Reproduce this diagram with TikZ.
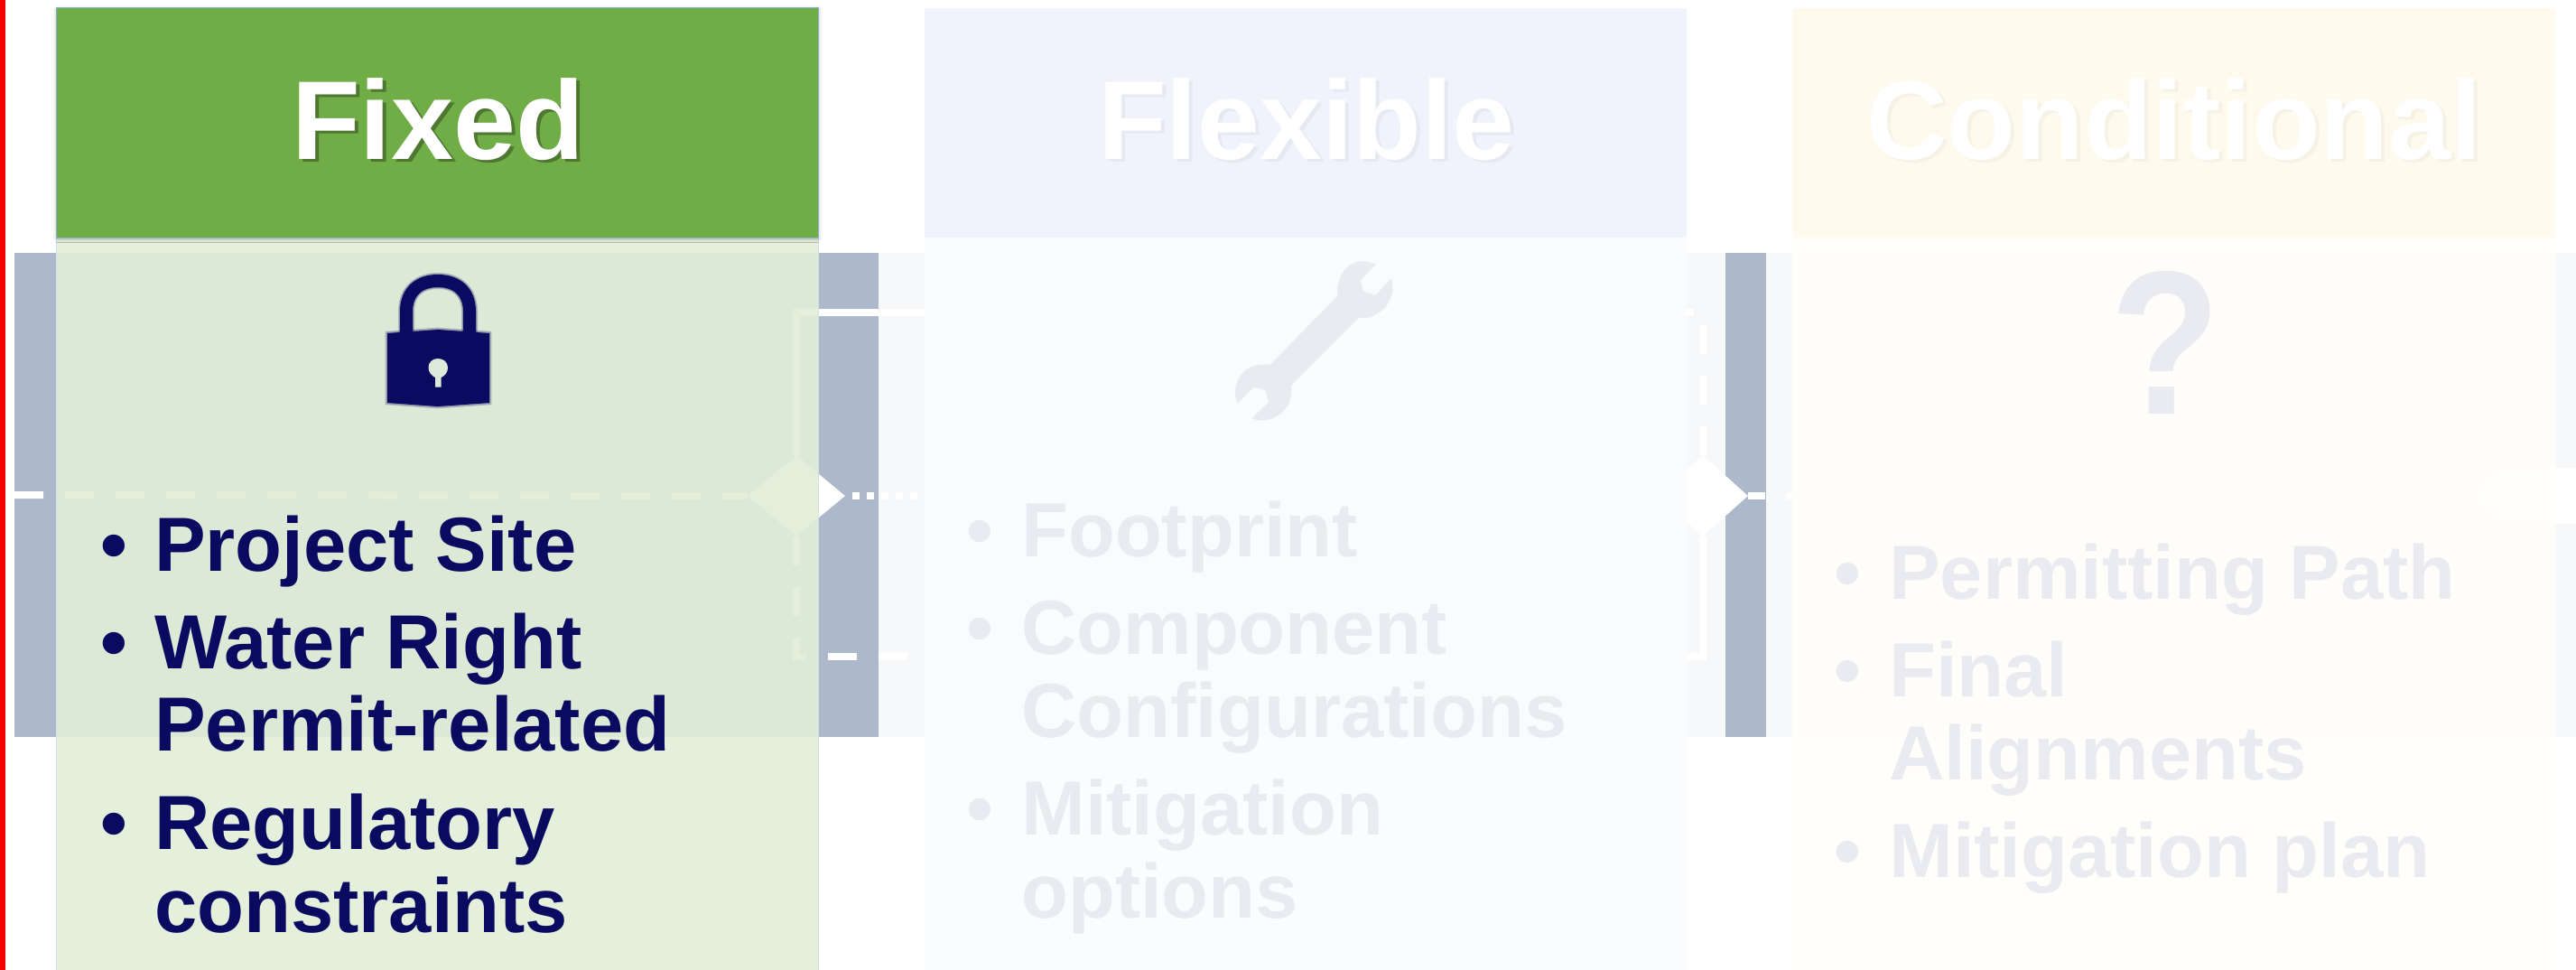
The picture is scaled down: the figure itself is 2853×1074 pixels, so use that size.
\documentclass[tikz,border=0pt]{standalone}
\usepackage{fontspec}
\setmainfont{Liberation Sans}
\usepackage{tikz}
\usetikzlibrary{shadows.blur}
\usetikzlibrary{shapes}
\definecolor{navyText}{RGB}{10,10,96}
\definecolor{faintText}{RGB}{233,235,241}
\definecolor{bandGray}{RGB}{173,184,203}
\definecolor{headGreen}{RGB}{112,173,71}
\definecolor{headBlue}{RGB}{240,243,251}
\definecolor{headCream}{RGB}{255,250,238}
\definecolor{panelGreen}{RGB}{225,238,216}
\definecolor{panelBlue}{RGB}{251,252,254}
\definecolor{panelCream}{RGB}{255,254,251}
\definecolor{keyGreen}{RGB}{221,233,217}
\tikzset{
  flowline/.style={draw=white,line width=6pt},
  flowdash/.style={flowline,dash pattern=on 24pt off 18pt},
  flowdec/.style={diamond,fill=white,inner sep=0pt,minimum width=81pt,minimum height=67.5pt},
  headtext/.style={anchor=base,inner sep=0pt,text=white,font=\fontsize{93}{100}\bfseries},
  headshade/.style={headtext,text=black,opacity=0.3},
  itemtext/.style={anchor=base west,inner sep=0pt,font=\fontsize{63.7}{69}\bfseries},
  itembullet/.style={anchor=base west,inner sep=0pt,font=\fontsize{63.7}{69}\bfseries},
  lockglow/.style={draw=navyText,draw opacity=0.22},
}
\begin{document}
\begin{tikzpicture}[x=0.75pt,y=0.75pt,yscale=-1,xscale=1]
\useasboundingbox (0,0) rectangle (2853,1074);

%Red edge
\fill [color={rgb, 255:red, 240; green, 0; blue, 0 }] (0,0) rectangle (6,1074);
%Gray band
\fill [bandGray] (16,280) rectangle (2853,816);

%Flow shapes
\coordinate (startLeft) at (16,548);
\coordinate (midTop) at (1400,346);
\coordinate (lowEnd) at (1886,727);
\coordinate (lowJoin) at (1850,727);
\node [flowdec] (decFixed) at (882,549) {};
\node [flowdec,minimum width=75pt] (decFlex) at (1886,549) {};
\node [rounded rectangle,rounded rectangle right arc=none,fill=white,inner sep=0pt,minimum width=84pt,minimum height=46.5pt] (termEnd) at (2797,549) {};

%Flow lines
\draw [flowdash] (startLeft) -- (decFixed.west);
\draw [flowline] (decFixed.north) |- (midTop);
\draw [flowdash] (decFlex.north) |- (midTop);
\draw [flowline,dash pattern=on 6pt off 6pt,dash phase=6pt] (decFixed.east) -- (decFlex.west);
\draw [flowdash] (decFixed.south) |- (lowEnd);
\draw [flowline] (lowJoin) -| (decFlex.south);
\draw [flowdash,dash phase=9.75pt] (decFlex.east) -- (termEnd.west);

%White veil over the right part of the band
\fill [white,opacity=0.915] (973,280) rectangle (1911,816);
\fill [white,opacity=0.915] (1956,280) rectangle (2853,816);

%Panels
\filldraw [fill=panelGreen,draw={rgb, 255:red, 212; green, 224; blue, 232 },line width=0.75pt,fill opacity=0.91] (62,263) rectangle (906,1076);
\fill [panelBlue,opacity=0.97] (1024,263) rectangle (1868,1074);
\fill [panelCream,opacity=0.95] (1985,263) rectangle (2830,1074);

%Headers
\filldraw [fill=headGreen,draw={rgb, 255:red, 140; green, 175; blue, 215 },line width=0.75pt,blur shadow={shadow xshift=0.5pt,shadow yshift=-1pt,shadow blur radius=3pt,shadow opacity=30}] (62,9) rectangle (906,263);
\fill [headBlue] (1024,9) rectangle (1868,263);
\fill [headCream] (1985,9) rectangle (2830,263);

% Text Node
\node [headshade] (shadeFixed) at (489,179) {Fixed};
\node [headtext] (titleFixed) at (485,176) {Fixed};
% Text Node
\node [headshade,opacity=0.04] (shadeFlex) at (1451,179) {Flexible};
\node [headtext] (titleFlex) at (1447,176) {Flexible};
% Text Node
\node [headshade,opacity=0.03] (shadeCond) at (2412,179) {Conditional};
\node [headtext] (titleCond) at (2408,176) {Conditional};

%Lock
\foreach \glow in {13.5,12}{
  \draw [lockglow,line width=\glow pt] (450,374) -- (450,345) .. controls (450,322) and (465,311) .. (485,311) .. controls (505,311) and (520,322) .. (520,345) -- (520,374);
}
\foreach \glow in {3.5,1.8}{
  \draw [lockglow,line width=\glow pt] (429,369) -- (485,365) -- (542,369) -- (542,446) -- (485,450) -- (429,446) -- cycle;
}
\draw [navyText,line width=10.5pt] (450,372) -- (450,345) .. controls (450,322) and (465,311) .. (485,311) .. controls (505,311) and (520,322) .. (520,345) -- (520,372);
\fill [navyText] (429,369) -- (485,365) -- (542,369) -- (542,446) -- (485,450) -- (429,446) -- cycle;
\fill [keyGreen] (485,397) .. controls (479,397) and (474.5,401) .. (474.5,407) .. controls (474.5,412) and (478,416) .. (482,418) -- (482,428.5) -- (488.5,428.5) -- (488.5,418) .. controls (493,416) and (496,412) .. (496,407) .. controls (496,401) and (491,397) .. (485,397) -- cycle;

%Wrench
\fill [faintText] (1481.4,327.5) .. controls (1479,312) and (1488,289.3) .. (1510.5,289.3) -- (1524.3,291.8) -- (1506.7,310.7) -- (1510.5,322.9) -- (1523.5,326.8) -- (1541.1,307.9) .. controls (1548.8,336.4) and (1522,356) .. (1505.1,351.4) -- (1430.1,426.4) .. controls (1434,454.3) and (1407.2,472.1) .. (1386.5,463.2) -- (1404.9,445.4) -- (1401.8,432.1) -- (1388.8,428.6) -- (1370.4,447.1) .. controls (1361.3,422.1) and (1380.4,398.9) .. (1406.4,404.3) -- cycle;

% Text Node
\node [anchor=base,inner sep=0pt,text=faintText,font=\fontsize{170}{172}\bfseries] (iconCond) at (2398,458) {\scalebox{0.88}[1]{?}};

% Text Node
\node [itembullet,text=navyText] (bulSite) at (111.5,632) {•};
\node [itemtext,text=navyText] (itemSite) at (171,632) {Project Site};
\node [itembullet,text=navyText] (bulRight) at (111.5,740) {•};
\node [itemtext,text=navyText] (itemRight) at (171,740) {Water Right};
\node [itemtext,text=navyText] (itemPermit) at (171,831.5) {Permit-related};
\node [itembullet,text=navyText] (bulReg) at (111.5,940) {•};
\node [itemtext,text=navyText] (itemReg) at (171,940) {Regulatory};
\node [itemtext,text=navyText] (itemCons) at (171,1032) {constraints};

% Text Node
\node [itembullet,text=faintText] (bulFoot) at (1070,616) {•};
\node [itemtext,text=faintText] (itemFoot) at (1131,616) {Footprint};
\node [itembullet,text=faintText] (bulComp) at (1070,724) {•};
\node [itemtext,text=faintText] (itemComp) at (1131,724) {Component};
\node [itemtext,text=faintText] (itemConf) at (1131,816) {Configurations};
\node [itembullet,text=faintText] (bulMit) at (1070,924) {•};
\node [itemtext,text=faintText] (itemMit) at (1131,924) {Mitigation};
\node [itemtext,text=faintText] (itemOpt) at (1131,1016) {options};

% Text Node
\node [itembullet,text=faintText] (bulPath) at (2031,663) {•};
\node [itemtext,text=faintText] (itemPath) at (2092,663) {Permitting Path};
\node [itembullet,text=faintText] (bulFinal) at (2031,771) {•};
\node [itemtext,text=faintText] (itemFinal) at (2092,771) {Final};
\node [itemtext,text=faintText] (itemAlign) at (2092,863) {Alignments};
\node [itembullet,text=faintText] (bulPlan) at (2031,971) {•};
\node [itemtext,text=faintText] (itemPlan) at (2092,971) {Mitigation plan};

\end{tikzpicture}
\end{document}
